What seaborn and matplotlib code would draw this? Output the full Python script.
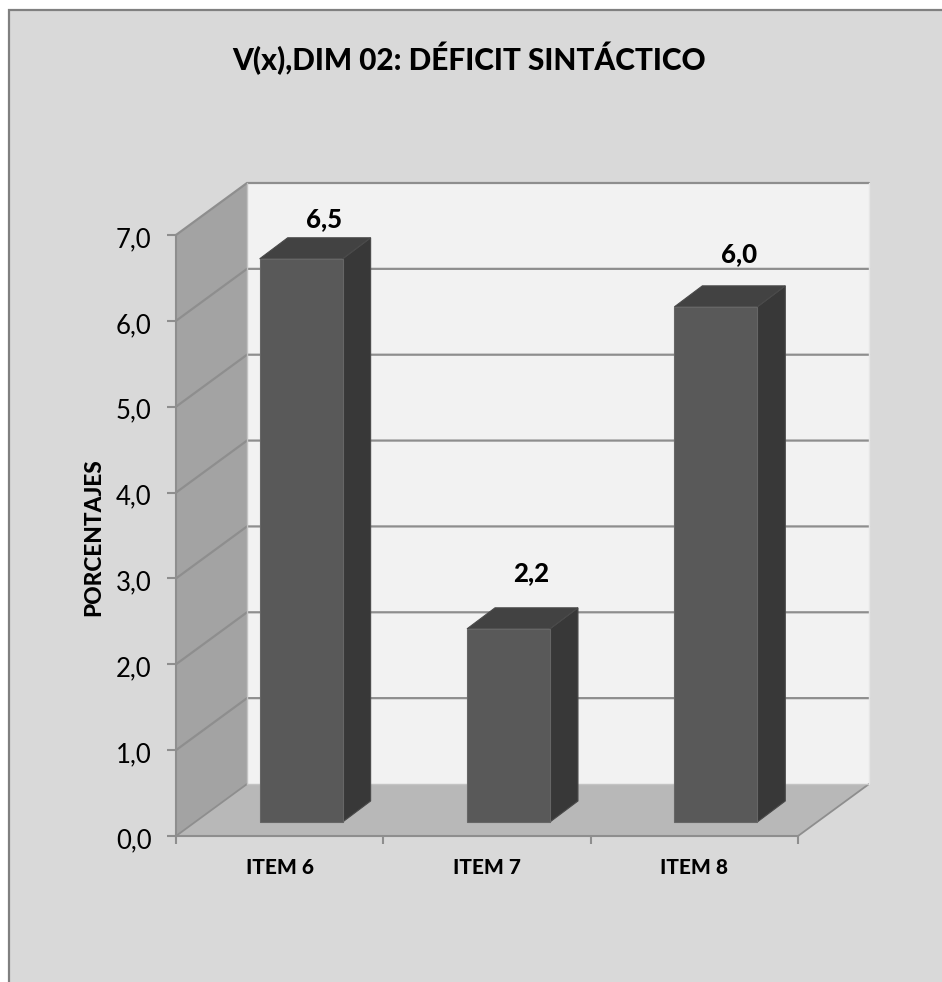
import matplotlib
matplotlib.use("Agg")
import matplotlib.pyplot as plt
import seaborn as sns
from matplotlib.patches import Polygon, Rectangle
from matplotlib.transforms import Affine2D

TITLE = "V(x),DIM 02: DÉFICIT SINTÁCTICO"
ITEMS = ["ITEM 6", "ITEM 7", "ITEM 8"]
VALUES = [6.56, 2.25, 6.0]
VALUE_LABELS = ["6,5", "2,2", "6,0"]
Y_TICKS = [0, 1, 2, 3, 4, 5, 6, 7]
Y_TICK_LABELS = ["0,0", "1,0", "2,0", "3,0", "4,0", "5,0", "6,0", "7,0"]

W, H = 942, 982
LINE = "#8e8e8e"
HEAVY = 900

sns.set_theme(style="white")
plt.rcParams["font.family"] = ["Lato", "DejaVu Sans"]

fig = plt.figure(figsize=(W / 100, H / 100), dpi=100, facecolor="white")

# chart area frame runs off the right and bottom of the picture
fig.add_artist(Rectangle((9 / W, -0.05), 1.1, 1.05 - 10 / H, transform=fig.transFigure,
                         facecolor="#d9d9d9", edgecolor="#808080", linewidth=1.6, zorder=-1))

ax = fig.add_axes([176 / W, (H - 836) / H, 622 / W, 601 / H], facecolor="none")
sns.barplot(x=ITEMS, y=VALUES, color="#595959", saturation=1, width=0.4, ax=ax, zorder=5)
ax.set_xlim(-0.5, 2.5)
ax.set_ylim(0, 7)

# 3D depth, in data units
per_x = 622 / 3
per_y = 601 / 7
DX, DY = 71 / per_x, 52 / per_y
BAR_X, BAR_Y = 21.5 / per_x, 14 / per_y
BAR_DX, BAR_DY = 28 / per_x, 21 / per_y
x0, x1 = ax.get_xlim()
top = Y_TICKS[-1]


def add_poly(points, color, zorder, edge="none"):
    ax.add_patch(Polygon(points, closed=True, facecolor=color, edgecolor=edge,
                         linewidth=0.8, zorder=zorder, clip_on=False))


# walls and floor
add_poly([(x0 + DX, DY), (x1 + DX, DY), (x1 + DX, top + DY), (x0 + DX, top + DY)], "#f2f2f2", 0)
add_poly([(x0, 0), (x0 + DX, DY), (x0 + DX, top + DY), (x0, top)], "#a3a3a3", 0)
add_poly([(x0, 0), (x1, 0), (x1 + DX, DY), (x0 + DX, DY)], "#b8b8b8", 0)

# gridlines on both walls
for v in Y_TICKS[1:]:
    ax.plot([x0, x0 + DX, x1 + DX], [v, v + DY, v + DY], color=LINE, lw=1.6,
            zorder=1, clip_on=False, solid_joinstyle="miter")
ax.plot([x0, x0 + DX], [0, DY], color=LINE, lw=1.3, zorder=1, clip_on=False)
ax.plot([x1, x1 + DX], [0, DY], color=LINE, lw=1.3, zorder=1, clip_on=False)
ax.plot([x0 + DX, x1 + DX], [DY, DY], color="#c4c4c4", lw=1.0, zorder=1, clip_on=False)
ax.plot([x0 + DX, x0 + DX], [DY, top + DY], color="#c4c4c4", lw=1.0, zorder=1, clip_on=False)
ax.plot([x1 + DX, x1 + DX], [DY, top + DY], color="#e6e6e6", lw=1.0, zorder=1, clip_on=False)

# move the bars back into the box and give them a side and a top
shift = Affine2D().translate(BAR_X, BAR_Y) + ax.transData
for bar, label, off in zip(ax.patches[:3], VALUE_LABELS, [40, 56, 53]):
    bx, bw, bh = bar.get_x(), bar.get_width(), bar.get_height()
    bar.set_transform(shift)
    bar.set_edgecolor("#666666")
    bar.set_linewidth(0.8)
    left, right = bx + BAR_X, bx + bw + BAR_X
    low, high = BAR_Y, bh + BAR_Y
    add_poly([(right, low), (right + BAR_DX, low + BAR_DY), (right + BAR_DX, high + BAR_DY),
              (right, high)], "#383838", 4, edge="#4a4a4a")
    add_poly([(left, high), (right, high), (right + BAR_DX, high + BAR_DY),
              (left + BAR_DX, high + BAR_DY)], "#424242", 4, edge="#4a4a4a")
    ax.annotate(label, xy=(bx + bw / 2 + BAR_X, high), xytext=(23, off), textcoords="offset pixels",
                ha="center", va="center", fontsize=18.5, fontweight=HEAVY, color="black",
                zorder=6, annotation_clip=False)

# axes
sns.despine(ax=ax, top=True, right=True)
for side in ["left", "bottom"]:
    ax.spines[side].set_color(LINE)
    ax.spines[side].set_linewidth(1.5)
    ax.spines[side].set_zorder(2)

ax.set_yticks(Y_TICKS)
ax.set_yticklabels(Y_TICK_LABELS, fontsize=18.5, color="black")
ax.tick_params(axis="y", length=6.5, width=1.5, color=LINE, left=True, pad=11)
for tick_label in ax.get_yticklabels():
    tick_label.set_transform(tick_label.get_transform() + Affine2D().translate(0, -2))

ax.set_xticks([0, 1, 2])
ax.set_xticklabels(ITEMS, fontsize=15, fontweight=HEAVY, color="black")
ax.set_xticks([-0.5, 0.5, 1.5, 2.5], minor=True)
ax.tick_params(axis="x", which="major", length=0, pad=16)
ax.tick_params(axis="x", which="minor", length=6, width=1.5, color=LINE, bottom=True)

ax.set_xlabel("")
ax.set_ylabel("")
fig.text(94 / W, 1 - 537 / H, "PORCENTAJES", rotation=90, ha="center", va="center",
         fontsize=16.3, fontweight=HEAVY, color="black")
fig.text(469 / W, 1 - 58 / H, TITLE, ha="center", va="center",
         fontsize=21.4, fontweight=HEAVY, color="black")

fig.savefig("out.png", dpi=100, facecolor="white")
